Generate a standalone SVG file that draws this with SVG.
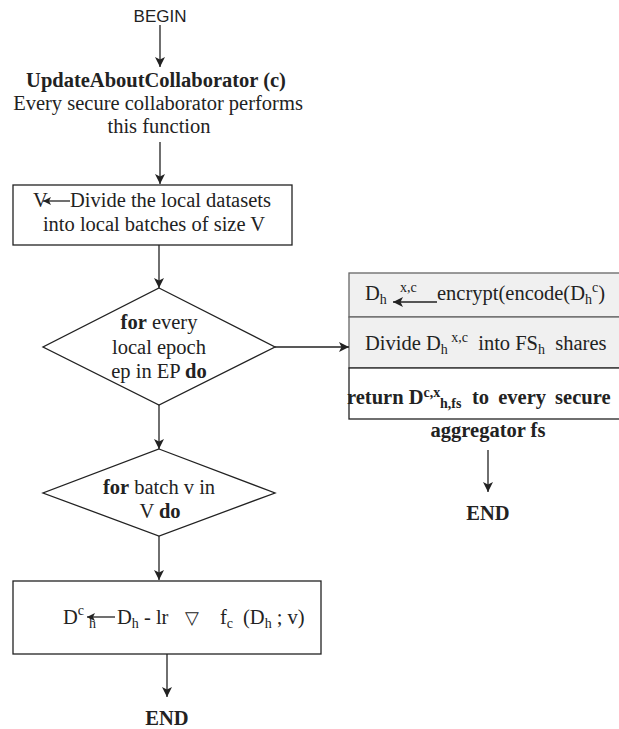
<svg xmlns="http://www.w3.org/2000/svg" width="619" height="729" viewBox="0 0 619 729">
<style>
  .t { font-family: "Liberation Serif", "Times New Roman", serif; font-size: 20.5px; fill: #222; }
  .b { font-weight: bold; }
  .s { font-size: 14px; }
  .sans { font-family: "Liberation Sans", Arial, sans-serif; font-size: 17px; fill: #222; }
  .box { fill: #fff; stroke: #222; stroke-width: 1.3; }
  .gbox { fill: #f0f0f0; stroke: #666; stroke-width: 1.3; }
  .edge { fill: none; stroke: #222; stroke-width: 1.3; }
  .arr { marker-end: url(#ah); }
  .sarr { marker-end: url(#sah); }
</style>
<defs>
  <marker id="ah" markerUnits="userSpaceOnUse" markerWidth="11" markerHeight="10" refX="10" refY="5" orient="auto">
    <path d="M0,0 L10,5 L0,10 L2.5,5 z" fill="#222"/>
  </marker>
  <marker id="sah" markerUnits="userSpaceOnUse" markerWidth="9" markerHeight="8" refX="8" refY="4" orient="auto">
    <path d="M0,0 L8,4 L0,8 L2,4 z" fill="#222"/>
  </marker>
</defs>
<rect width="619" height="729" fill="#fff"/>

<g id="begin">
  <text class="sans" x="160" y="22" text-anchor="middle">BEGIN</text>
</g>

<g id="function">
  <text class="t b" x="156" y="87" text-anchor="middle">UpdateAboutCollaborator (c)</text>
  <text class="t" x="158" y="110" text-anchor="middle">Every secure collaborator performs</text>
  <text class="t" x="159" y="133" text-anchor="middle">this function</text>
</g>

<g id="divide">
  <rect class="box" x="13" y="185" width="279" height="60"/>
  <text class="t" x="33" y="207">V</text>
  <text class="t" x="70" y="207">Divide the local datasets</text>
  <text class="t" x="154" y="231" text-anchor="middle">into local batches of size V</text>
</g>

<g id="epoch-loop">
  <polygon class="box" points="159,288 275,347 159,405 43,347"/>
  <text class="t" x="159" y="329" text-anchor="middle"><tspan class="b">for</tspan> every</text>
  <text class="t" x="159" y="354" text-anchor="middle">local epoch</text>
  <text class="t" x="159" y="378" text-anchor="middle">ep in EP <tspan class="b">do</tspan></text>
</g>

<g id="batch-loop">
  <polygon class="box" points="159,449 275,493 159,536 43,493"/>
  <text class="t" x="159" y="494" text-anchor="middle"><tspan class="b">for</tspan> batch v in</text>
  <text class="t" x="160" y="518" text-anchor="middle">V <tspan class="b">do</tspan></text>
</g>

<g id="update">
  <rect class="box" x="13" y="581" width="308" height="73"/>
  <text class="t" x="63" y="624">D<tspan class="s" dy="-9">c</tspan></text>
  <text class="t s" x="89" y="628">h</text>
  <text class="t" x="117" y="624">D<tspan class="s" dy="4">h</tspan><tspan dy="-4"> - lr</tspan></text>
  <text x="185" y="624" style="font-family: 'DejaVu Sans', sans-serif; font-size: 18px; fill: #222;">▽</text>
  <text class="t" x="220" y="624">f<tspan class="s" dy="4">c</tspan></text>
  <text class="t" x="243" y="624">(D<tspan class="s" dy="4">h</tspan><tspan dy="-4"> ; v)</tspan></text>
</g>

<g id="end-left">
  <text class="t b" x="167" y="725" text-anchor="middle">END</text>
</g>

<g id="encrypt-block">
  <rect class="gbox" x="349" y="273" width="285" height="44"/>
  <rect class="gbox" x="349" y="317" width="285" height="51"/>
  <rect class="box" x="349" y="368" width="285" height="51"/>
  <text class="t" x="365" y="300">D<tspan class="s" dy="4">h</tspan></text>
  <text class="t s" x="400" y="292">x,c</text>
  <text class="t" x="437" y="300">encrypt(encode(D<tspan class="s" dy="4">h</tspan><tspan class="s" dy="-12">c</tspan><tspan dy="8">)</tspan></text>
  <text class="t" x="365" y="350" xml:space="preserve">Divide D<tspan class="s" dy="4">h</tspan><tspan class="s" dy="-12"> x,c</tspan><tspan dy="8">  into FS</tspan><tspan class="s" dy="4">h</tspan><tspan dy="-4">  shares</tspan></text>
  <text class="t b" x="347" y="404">return D<tspan class="s" dy="-7">c,x</tspan><tspan class="s" dy="11" x="440">h,fs</tspan></text>
  <text class="t b" x="472" y="404" word-spacing="4">to every secure</text>
  <text class="t b" x="488" y="437" text-anchor="middle">aggregator fs</text>
</g>

<g id="end-right">
  <text class="t b" x="488" y="520" text-anchor="middle">END</text>
</g>

<g id="connectors">
  <line class="edge arr" x1="160" y1="25" x2="160" y2="67"/>
  <line class="edge arr" x1="160" y1="142" x2="160" y2="184"/>
  <line class="edge arr" x1="159" y1="245" x2="159" y2="288"/>
  <line class="edge arr" x1="159" y1="405" x2="159" y2="449"/>
  <line class="edge arr" x1="159" y1="536" x2="159" y2="580"/>
  <line class="edge arr" x1="167" y1="654" x2="167" y2="697"/>
  <line class="edge arr" x1="275" y1="347" x2="349" y2="347"/>
  <line class="edge arr" x1="488" y1="450" x2="488" y2="492"/>
  <line class="edge sarr" x1="70" y1="201" x2="43" y2="201"/>
  <line class="edge arr" x1="437" y1="302" x2="393" y2="302"/>
  <line class="edge sarr" x1="115" y1="617" x2="87" y2="617"/>
</g>
</svg>
